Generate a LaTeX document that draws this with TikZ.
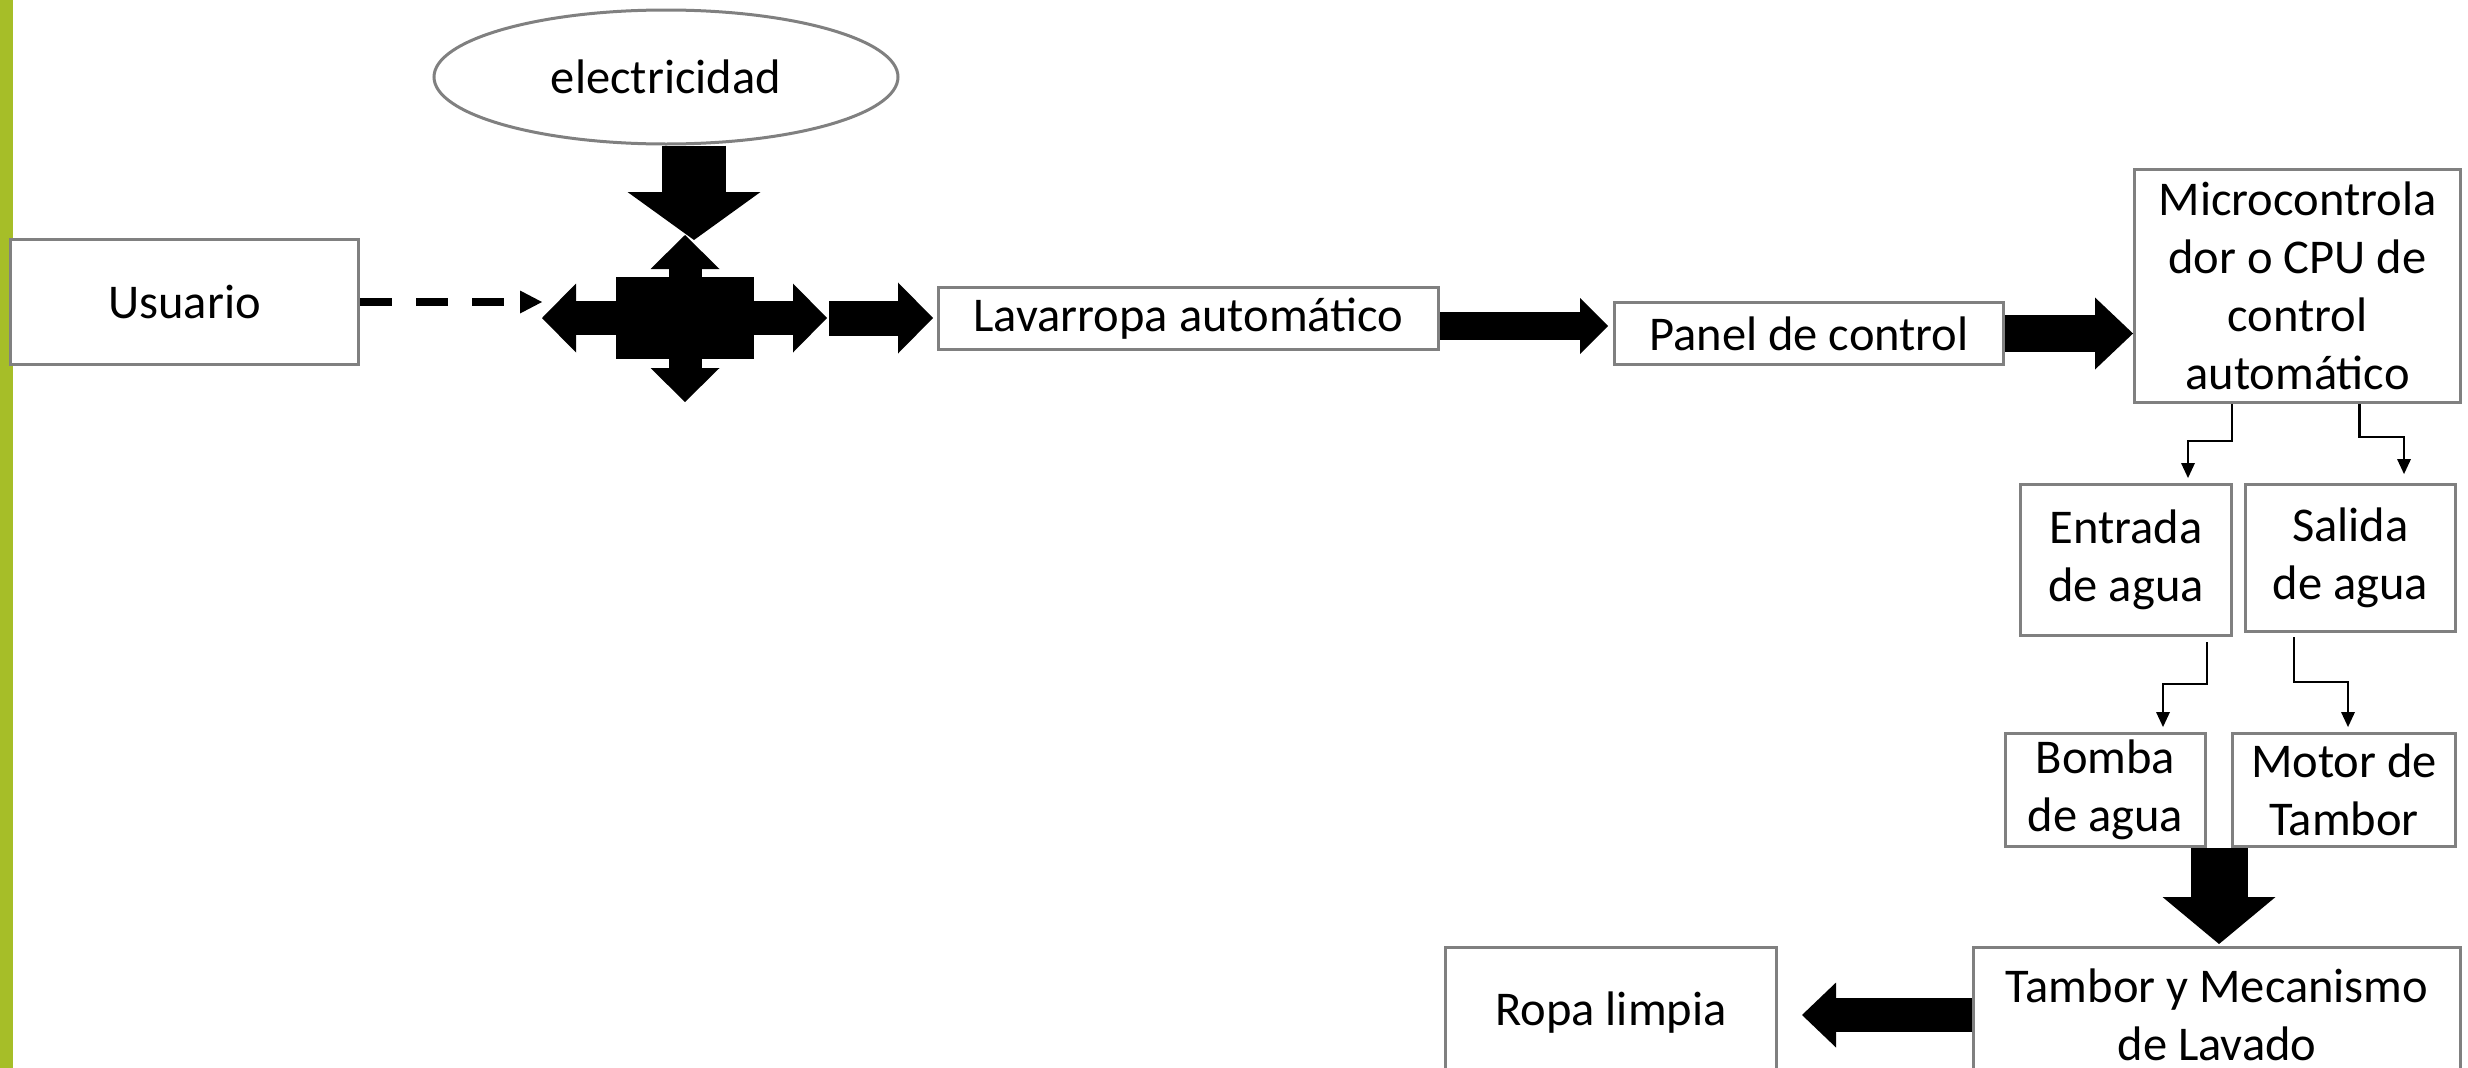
\documentclass[tikz,border=0pt]{standalone}
\usepackage{fontspec}
\setmainfont{Carlito}
\usetikzlibrary{arrows.meta,shapes.geometric,calc}
\definecolor{barverde}{RGB}{166,190,40}
\definecolor{borde}{RGB}{128,128,128}

\begin{document}
\begin{tikzpicture}
  [x=1pt, y=-1pt,
   every node/.style={font=\fontsize{48.5}{58}\selectfont, align=center, inner sep=0pt},
   caja/.style={draw=borde, line width=3pt, fill=white, rectangle},
   flecha/.style n args={3}{line width=#1pt, -{Triangle[length=#2pt, width=#3pt, line width=0pt]}},
   codo/.style={line width=2.5pt, -{Triangle[length=15pt, width=14pt, line width=0pt]}},
   punteada/.style={line width=8pt, dash pattern=on 32pt off 24pt, -{Triangle[length=22pt, width=23pt, line width=0pt]}}]
  \useasboundingbox (0,0) rectangle (2468,1068);
  \clip (0,0) rectangle (2468,1068);
  \fill[barverde] (0,0) rectangle (13,1068);
  \node[caja, ellipse, minimum width=464pt, minimum height=134pt] (elec) at (666,77) {electricidad};
  \node[caja, minimum width=348pt, minimum height=125pt] (usuario) at (184.5,302) {Usuario};
  \node[fill=black, minimum width=138pt, minimum height=82pt] (hub) at (685,318) {};
  \node[caja, minimum width=500pt, minimum height=62pt] (lav) at (1188.5,318.5) {Lavarropa automático};
  \node[caja, minimum width=389pt, minimum height=62pt] (panel) at (1809,333.5) {Panel de control};
  \node[caja, minimum width=326pt, minimum height=233pt] (micro) at (2297.5,286) {Microcontrola\\dor o CPU de\\control\\automático};
  \node[caja, minimum width=211pt, minimum height=151pt] (entrada) at (2126,560) {Entrada\\de agua};
  \node[caja, minimum width=210pt, minimum height=147pt] (salida) at (2350.5,558) {Salida\\de agua};
  \node[caja, minimum width=200pt, minimum height=113pt] (bomba) at (2105.5,790) {Bomba\\de agua};
  \node[caja, minimum width=223pt, minimum height=113pt] (motor) at (2344,790) {Motor de\\Tambor};
  \node[caja, minimum width=487pt, minimum height=135pt] (tambor) at (2217,1015) {Tambor y Mecanismo\\de Lavado};
  \node[caja, minimum width=331pt, minimum height=131pt] (ropa) at (1611,1013) {Ropa limpia};

  \coordinate (hubL) at (542,318);
  \coordinate (hubR) at (827,318);
  \coordinate (hubU) at (685,235);
  \coordinate (hubD) at (685,402);
  \draw[flecha={34}{34}{69}] (hub.west) -- (hubL);
  \draw[flecha={34}{34}{69}] (hub.east) -- (hubR);
  \draw[flecha={33}{34}{69}] (hub.north) -- (hubU);
  \draw[flecha={33}{34}{69}] (hub.south) -- (hubD);

  \coordinate (elecT) at (694,240);
  \draw[flecha={64}{48}{133}] (elec.south -| elecT) -- (elecT);
  \draw[punteada] (usuario.east) -- (usuario.east -| hubL);
  \draw[flecha={35}{35}{71}, shorten <=2pt, shorten >=4pt] (hubR) -- (lav.west |- hubR);
  \coordinate (m1) at ($(lav.east)!.5!(panel.west)$);
  \draw[flecha={28}{28}{56}, shorten >=5pt] (lav.east |- m1) -- (panel.west |- m1);
  \draw[flecha={37}{38}{72}] (panel.east) -- (panel.east -| micro.west);

  \draw[codo] ([xshift=-65.5pt]micro.south) -- ++(0,37) -| ([xshift=62pt,yshift=5pt]entrada.north);
  \draw[codo] ([xshift=62pt]micro.south) -- ++(0,33) -| ([xshift=53.5pt,yshift=9pt]salida.north);
  \draw[codo] ([xshift=81pt,yshift=-5pt]entrada.south) -- ++(0,42) -| ([xshift=57.5pt,yshift=5pt]bomba.north);
  \draw[codo] ([xshift=-56.5pt,yshift=-4pt]salida.south) -- ++(0,45) -| ([xshift=4pt,yshift=5pt]motor.north);

  \coordinate (m2) at ($(bomba.south east)!.5!(motor.south west)$);
  \draw[flecha={57}{47}{113}, shorten >=2pt] (m2) -- (m2 |- tambor.north);
  \draw[flecha={34}{34}{65}, shorten >=24pt] (tambor.west) -- (tambor.west -| ropa.east);
\end{tikzpicture}
\end{document}
